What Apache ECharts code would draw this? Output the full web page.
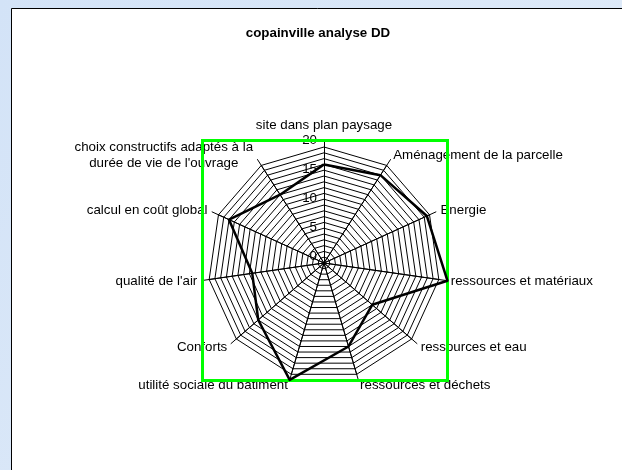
<!DOCTYPE html>
<html>
<head>
<meta charset="utf-8">
<script src="https://cdn.jsdelivr.net/npm/echarts@6/dist/echarts.min.js"></script>
<style>
html,body{margin:0;padding:0;background:#d9e7f8;}
#c{width:622px;height:470px;}
</style>
</head>
<body>
<div id="c"></div>
<script>
var titleText = 'copainville analyse DD';
var categories = [
  'site dans plan paysage',
  'Aménagement de la parcelle',
  'Energie',
  'ressources et matériaux',
  'ressources et eau',
  'ressources et déchets',
  'utilité sociale du bâtiment',
  'Conforts',
  "qualité de l'air",
  'calcul en coût global',
  "choix constructifs adaptés à la\ndurée de vie de l'ouvrage"
];
var values = [17, 18, 19.5, 21.5, 11, 15, 21, 15, 12.5, 18, 14];
var axisMax = 20;
var tickValues = [0, 5, 10, 15, 20];

var CX = 324, CY = 263, R = 116, REXT = 123;
var font = 'Liberation Sans, Arial, sans-serif';
var FS = 13.33;

// ECharts lays indicators out counter-clockwise; the reference runs clockwise,
// so keep the first and reverse the rest.
var order = [0];
for (var i = categories.length - 1; i >= 1; i--) order.push(i);
var indicators = order.map(function (k) { return {name: categories[k], max: axisMax, min: 0}; });
var orderedValues = order.map(function (k) { return values[k]; });

var chart = echarts.init(document.getElementById('c'), null, {renderer: 'canvas'});

var option = {
  backgroundColor: 'transparent',
  animation: false,
  title: {
    text: titleText, left: 313, top: 22, textAlign: 'center',
    textStyle: {fontFamily: font, fontSize: FS, fontWeight: 'bold', color: '#000'}
  },
  graphic: [
    {type: 'rect', z: -20, shape: {x: 0, y: 0, width: 622, height: 470}, style: {fill: new echarts.graphic.LinearGradient(0,0,1,1,[{offset:0,color:'#d3e3f7'},{offset:1,color:'#e3edf9'}])}},
    {type: 'rect', z: -19, shape: {x: 11.5, y: 8.5, width: 700, height: 600}, style: {fill: '#fff', stroke: '#000', lineWidth: 1}},
    {type: 'rect', z: 1, shape: {x: 202.5, y: 140.5, width: 245, height: 240}, style: {fill: 'none', stroke: '#00ff00', lineWidth: 3}}
  ],
  radar: [
    {
      center: [CX, CY], radius: R, startAngle: 90, splitNumber: 20, shape: 'polygon',
      indicator: indicators,
      axisName: {show: false},
      axisLine: {lineStyle: {color: '#000', width: 1}},
      splitLine: {lineStyle: {color: '#000', width: 1}},
      splitArea: {show: false},
      axisTick: {show: false}, axisLabel: {show: false}
    },
    {
      center: [CX, CY], radius: REXT, startAngle: 90, splitNumber: 1, shape: 'polygon',
      indicator: indicators,
      nameGap: 5,
      axisName: {
        color: '#000', fontFamily: font, fontSize: FS,
        formatter: function (name) {
          if (name.indexOf('\n') >= 0) {
            return name.split('\n').map(function (s) { return '{c|' + s + '}'; }).join('\n');
          }
          if (name === categories[0]) return '{t|' + name + '}';
          return name;
        },
        rich: {
          c: {width: 182, align: 'center', color: '#000', fontFamily: font, fontSize: FS, lineHeight: 16},
          t: {color: '#000', fontFamily: font, fontSize: FS, padding: [0, 0, 3, 0]}
        }
      },
      axisLine: {lineStyle: {color: '#000', width: 1}},
      splitLine: {show: false},
      splitArea: {show: false},
      axisTick: {show: false}, axisLabel: {show: false}
    }
  ],
  grid: {left: CX, top: CY - R, width: 1, height: R},
  xAxis: {type: 'value', show: false},
  yAxis: {
    type: 'value', min: 0, max: axisMax, interval: 5,
    axisLine: {show: false}, axisTick: {show: false}, splitLine: {show: false},
    axisLabel: {
      margin: 7, color: '#000', fontFamily: font, fontSize: FS, verticalAlign: 'bottom',
      formatter: function (v) { return tickValues.indexOf(v) >= 0 ? String(v) : ''; }
    }
  },
  series: [{
    type: 'radar', radarIndex: 0, symbol: 'none', z: 5,
    lineStyle: {color: '#000', width: 2.5},
    data: [{value: orderedValues, name: titleText}]
  }]
};
chart.setOption(option);
</script>
</body>
</html>
